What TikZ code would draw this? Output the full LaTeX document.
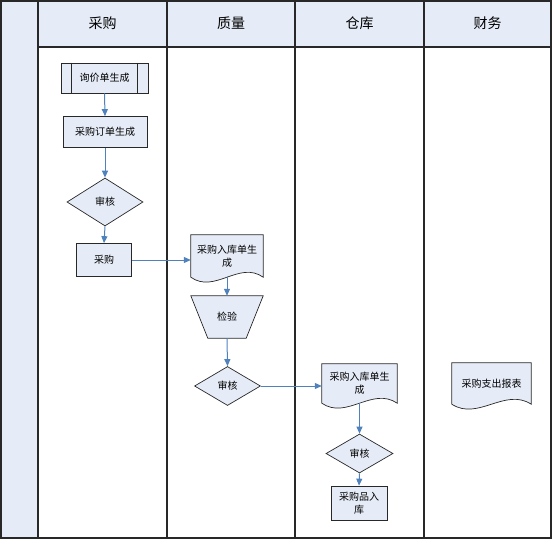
\documentclass[tikz,border=0pt]{standalone}
\usepackage{fontspec}
\setmainfont{Noto Sans CJK SC}
\usetikzlibrary{arrows.meta,shapes.geometric,calc,backgrounds}
\definecolor{fillb}{RGB}{230,236,247}
\definecolor{arr}{RGB}{79,129,189}
\definecolor{bord}{RGB}{40,40,40}
\newcommand\docshape[1]{%
  \draw[shapeline] let \p1=(#1.north west), \p2=(#1.south east) in
    (\x1,\y1) -- (\x2,\y1) -- (\x2,\y2)
    .. controls ({\x1+0.67*(\x2-\x1)},{\y2+17pt}) and ({\x1+0.33*(\x2-\x1)},{\y2-17pt}) .. (\x1,\y2) -- cycle;}
\begin{document}
\begin{tikzpicture}[x=1pt,y=-1pt,
  shapeline/.style={draw=bord, fill=fillb, line width=0.7pt},
  box/.style={shapeline, inner sep=1pt, font=\fontsize{10}{13}\selectfont, align=center},
  ghost/.style={inner sep=1pt, font=\fontsize{10}{13}\selectfont, align=center},
  flow/.style={draw=arr, line width=1pt, -{Triangle[length=7pt,width=6pt]}},
  lane/.style={draw=bord, line width=1.2pt},
  hdr/.style={font=\fontsize{14}{16}\selectfont}
]
\useasboundingbox (0,0) rectangle (553,540);
\begin{scope}[on background layer]
  \fill[fillb] (1,1) rectangle (38,538);
  \fill[fillb] (38,1) rectangle (551,47);
  \draw[lane] (1,1) rectangle (551,538);
  \draw[lane] (38,1) -- (38,538);
  \draw[lane] (167,1) -- (167,538);
  \draw[lane] (295,1) -- (295,538);
  \draw[lane] (424,1) -- (424,538);
  \draw[lane] (38,47) -- (551,47);
\end{scope}
% headers
\node[hdr] (h1) at (102.5,23) {采购};
\node[hdr] (h2) at (231,23) {质量};
\node[hdr] (h3) at (359.5,23) {仓库};
\node[hdr] (h4) at (487.5,23) {财务};
% column 1
\node[box, minimum width=87pt, minimum height=30pt] (n1) at (104.5,78) {询价单生成};
\draw[bord, line width=0.7pt] ($(n1.north west)+(11,0)$) -- ($(n1.south west)+(11,0)$);
\draw[bord, line width=0.7pt] ($(n1.north east)+(-11,0)$) -- ($(n1.south east)+(-11,0)$);
\node[box, minimum width=84pt, minimum height=31pt] (n2) at (105,132) {采购订单生成};
\node[box, diamond, minimum width=76pt, minimum height=48pt] (n3) at (105,202) {审核};
\node[box, minimum width=55pt, minimum height=33pt] (n4) at (104,260) {采购};
% column 2
\node[ghost, minimum width=72pt, minimum height=42pt] (d1) at (227,256) {采购入库单生\\成};
\node[ghost, minimum width=72pt, minimum height=42pt] (t1) at (227,317) {检验};
\node[box, diamond, minimum width=66pt, minimum height=39pt] (n5) at (227.5,386) {审核};
% column 3
\node[ghost, minimum width=75pt, minimum height=39pt] (d2) at (359.5,383.5) {采购入库单生\\成};
\node[box, diamond, minimum width=67pt, minimum height=39pt] (n6) at (359.5,453.5) {审核};
\node[box, minimum width=56pt, minimum height=34pt] (n7) at (359,503) {采购品入\\库};
% column 4
\node[ghost, minimum width=79pt, minimum height=41pt] (d3) at (491.5,383.5) {采购支出报表};
\begin{scope}[on background layer]
  \docshape{d1}
  \docshape{d2}
  \docshape{d3}
  \draw[shapeline] (t1.north west) -- (t1.north east) -- ($(t1.south east)+(-17,0)$) -- ($(t1.south west)+(17,0)$) -- cycle;
\end{scope}
% connectors
\draw[flow] (n1.south) -- (n2.north);
\draw[flow] (n2.south) -- (n3.north);
\draw[flow] (n3.south) -- (n4.north);
\draw[flow] (n4.east) -- (n4.east -| d1.west);
\draw[flow] (d1.south) -- (t1.north);
\draw[flow] (t1.south) -- (n5.north);
\draw[flow] (n5.east) -- (n5.east -| d2.west);
\draw[flow] (d2.south) -- (n6.north);
\draw[flow] (n6.south) -- (n7.north);
\end{tikzpicture}
\end{document}
